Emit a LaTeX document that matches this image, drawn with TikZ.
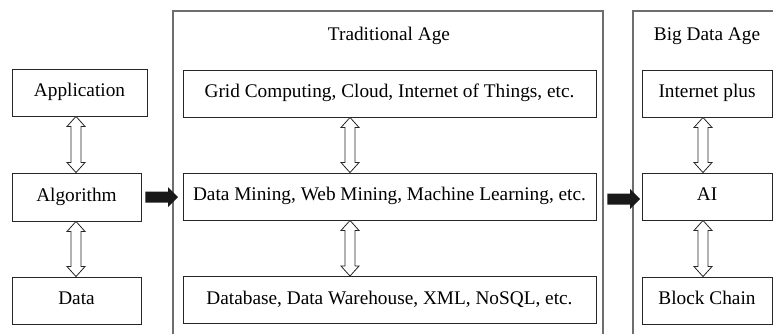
\documentclass[tikz,border=0pt]{standalone}
\usepackage{fontspec}
\setmainfont{Liberation Serif}
\usetikzlibrary{calc}
\definecolor{outerline}{RGB}{110,110,110}
\tikzset{
  txt/.style={font=\fontsize{19.3}{21}\selectfont, text height=0.9em, text depth=0.1em},
  box/.style={txt, draw=black!85, line width=0.9pt, minimum height=47pt, inner sep=0pt},
  outer/.style={draw=outerline, line width=1.1pt},
  title/.style={txt, inner sep=0pt},
  hollow/.style={draw=black!85, fill=white, line width=0.8pt, line join=miter},
  solidarrow/.style={fill=black!90, draw=none}
}
\newcommand{\hollowarrow}[3]{%
  \draw[hollow] let \p1=(#2.south), \p2=(#3.north) in
    (#1pt,\y1) -- (#1pt+9pt,\y1-10pt) -- (#1pt+5pt,\y1-10pt) -- (#1pt+5pt,\y2+10pt)
    -- (#1pt+9pt,\y2+10pt) -- (#1pt,\y2) -- (#1pt-9pt,\y2+10pt) -- (#1pt-5pt,\y2+10pt)
    -- (#1pt-5pt,\y1-10pt) -- (#1pt-9pt,\y1-10pt) -- cycle;}
\newcommand{\blackarrow}[2]{%
  \fill[solidarrow] let \p1=(#1.east), \p2=(#2) in
    (\x1+4pt,\y1+5.5pt) -- (\x2-10pt,\y1+5.5pt) -- (\x2-10pt,\y1+10pt) -- (\x2,\y1)
    -- (\x2-10pt,\y1-10pt) -- (\x2-10pt,\y1-5.5pt) -- (\x1+4pt,\y1-5.5pt) -- cycle;}
\begin{document}
\begin{tikzpicture}[x=1pt,y=-1pt]
\useasboundingbox (0,0) rectangle (773,333);
\clip (0,0) rectangle (773,333);
% outer frames
\draw[outer] (173,345) -- (173,11) -- (603,11) -- (603,345);
\draw[outer] (633,345) -- (633,11) -- (785,11) -- (785,345);
\node[title] (ttrad) at (389,36) {Traditional Age};
\node[title] (tbig) at (707,36) {Big Data Age};
% left column
\node[box, minimum width=135pt] (app) at (79.5,92.5) {Application};
\node[box, minimum width=129pt, minimum height=48pt] (alg) at (76.5,197) {Algorithm};
\node[box, minimum width=129pt] (data) at (76.5,300.5) {Data};
% traditional column
\node[box, minimum width=413pt] (grid) at (389.5,93.5) {Grid Computing, Cloud, Internet of Things, etc.};
\node[box, minimum width=413pt] (mining) at (389.5,196.5) {Data Mining, Web Mining, Machine Learning, etc.};
\node[box, minimum width=413pt] (db) at (389.5,300) {Database, Data Warehouse, XML, NoSQL, etc.};
% big data column
\node[box, minimum width=130pt] (inet) at (707,93.5) {Internet plus};
\node[box, minimum width=130pt] (ai) at (707,196.5) {AI};
\node[box, minimum width=130pt] (bc) at (707,300.5) {Block Chain};
% hollow double arrows
\hollowarrow{76}{app}{alg}
\hollowarrow{76}{alg}{data}
\hollowarrow{350}{grid}{mining}
\hollowarrow{350}{mining}{db}
\hollowarrow{703}{inet}{ai}
\hollowarrow{703}{ai}{bc}
% black arrows
\coordinate (tip1) at (178,197);
\coordinate (tip2) at (640,199);
\blackarrow{alg}{tip1}
\fill[solidarrow] let \p1=(mining.east), \p2=(tip2) in
    (\x1+11pt,\y2+5.5pt) -- (\x2-10pt,\y2+5.5pt) -- (\x2-10pt,\y2+10pt) -- (\x2,\y2)
    -- (\x2-10pt,\y2-10pt) -- (\x2-10pt,\y2-5.5pt) -- (\x1+11pt,\y2-5.5pt) -- cycle;
\end{tikzpicture}
\end{document}
